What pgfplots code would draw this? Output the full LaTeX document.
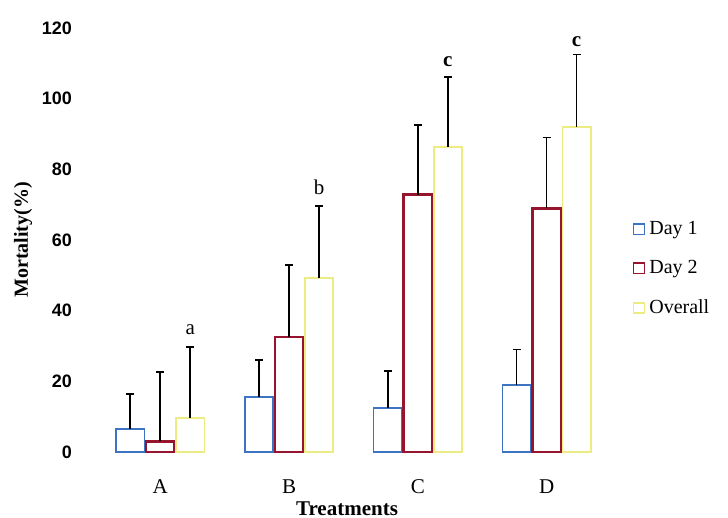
\documentclass[border=0pt]{standalone}
\usepackage{pgfplots}
\pgfplotsset{compat=1.18}
\usepackage{fontspec}
\setmainfont{Liberation Serif}
\newfontfamily\tickfont{Liberation Sans}
\definecolor{dayone}{RGB}{60,115,195}
\definecolor{daytwo}{RGB}{150,20,45}
\definecolor{overall}{RGB}{236,236,130}
\begin{document}
\begin{tikzpicture}
\begin{axis}[
  at={(41.5pt,-226pt)}, anchor=south west,
  scale only axis, width=264pt, height=212pt,
  xmin=-0.6, xmax=3.5, ymin=0, ymax=120,
  axis line style={draw=none}, major tick length=0pt,
  /pgf/number format/assume math mode=true,
  ytick={0,20,...,120},
  yticklabel style={font=\tickfont\bfseries\fontsize{9}{10}\selectfont, xshift=-2pt},
  xtick={0,1,2,3}, xticklabels={A,B,C,D},
  xticklabel style={font=\fontsize{10.5}{12}\selectfont, yshift=-10.5pt},
  xlabel={Treatments},
  xlabel style={font=\bfseries\fontsize{10.5}{12}\selectfont, yshift=3pt},
  ylabel={Mortality(\%)},
  ylabel style={font=\bfseries\fontsize{10}{12}\selectfont, yshift=-2pt},
  ybar=0.8pt, bar width=14.2pt,
  legend style={at={(1.04,0.555)}, anchor=north west, draw=none, fill=none,
    font=\fontsize{10}{12}\selectfont, row sep=7.5pt, inner sep=0pt,
    legend cell align=left},
  legend image code/.code={\draw[#1, line width=0.8pt] (0pt,-2.6pt) rectangle (5.6pt,2.6pt);},
  error bars/error bar style={black, line width=0.8pt, solid},
  error bars/error mark=|,
  error bars/error mark options={black, mark size=2pt, line width=0.8pt, solid},
]
\addplot[draw=dayone, fill=white, line width=0.8pt,
  error bars/.cd, y dir=plus, y explicit]
  coordinates {(0,6.5) +- (0,10) (1,15.6) +- (0,10.4) (2,12.5) +- (0,10.5) (3,19) +- (0,10)};
\addplot[draw=daytwo, fill=white, line width=1.3pt,
  error bars/.cd, y dir=plus, y explicit]
  coordinates {(0,3) +- (0,19.7) (1,32.6) +- (0,20.4) (2,72.8) +- (0,19.8) (3,69) +- (0,20)};
\addplot[draw=overall, fill=white, line width=0.9pt,
  error bars/.cd, y dir=plus, y explicit]
  coordinates {(0,9.6) +- (0,20.1) (1,49.3) +- (0,20.4) (2,86.4) +- (0,19.8) (3,92) +- (0,20.5)};
\legend{Day 1, Day 2, Overall}
\node[font=\fontsize{10.5}{12}\selectfont] at (axis cs:0.233,34.5) {a};
\node[font=\fontsize{10.5}{12}\selectfont] at (axis cs:1.233,75) {b};
\node[font=\bfseries\fontsize{10.5}{12}\selectfont] at (axis cs:2.233,110.5) {c};
\node[font=\bfseries\fontsize{10.5}{12}\selectfont] at (axis cs:3.233,116) {c};
\end{axis}
\pgfresetboundingbox
\path[use as bounding box] (0pt,0pt) rectangle (364pt,-259pt);
\end{tikzpicture}
\end{document}
